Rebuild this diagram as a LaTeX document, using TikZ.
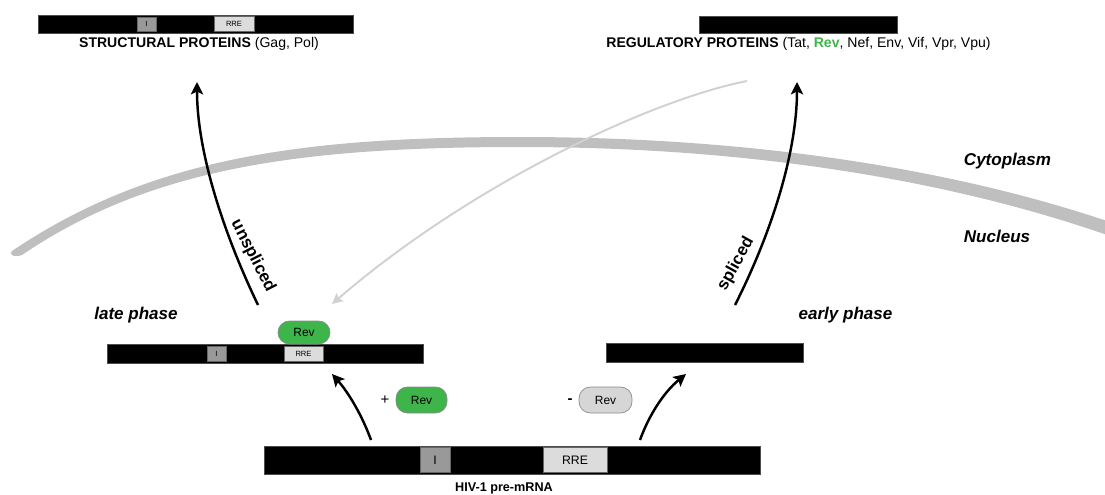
\documentclass[tikz,border=0pt]{standalone}
\usepackage{fontspec}
\setmainfont{Liberation Sans}
\usetikzlibrary{arrows.meta}
\definecolor{revgreen}{HTML}{3DB54A}
\definecolor{revgray}{HTML}{D6D6D6}
\definecolor{memgray}{HTML}{BFBFBF}
\definecolor{ibox}{HTML}{999999}
\definecolor{rrebox}{HTML}{DCDCDC}
\tikzset{
  rna/.style={fill=black, draw=black!70, line width=0.4pt, inner sep=0pt},
  ibx/.style={fill=ibox, draw=black!60, line width=0.4pt, inner sep=0pt},
  rrebx/.style={fill=rrebox, draw=black!60, line width=0.4pt, inner sep=0pt},
  revpill/.style={draw=black!45, line width=0.4pt, rounded corners=6.5pt, inner sep=0pt,
    font=\fontsize{6.8}{8}\selectfont},
  flow/.style={line width=1.4pt, -{Stealth[length=7pt, width=7pt, inset=1.5pt]}},
  phase/.style={font=\fontsize{9.7}{11}\selectfont\bfseries\itshape},
  proteins/.style={font=\fontsize{8}{9}\selectfont},
  along/.style={font=\fontsize{9.6}{11}\selectfont\bfseries},
}
\begin{document}
\begin{tikzpicture}[x=0.02cm, y=-0.02cm]
\useasboundingbox (0,0) rectangle (1105,494);
% membrane
\fill[memgray] (12,251) .. controls (150,158) and (300,137) .. (520,137)
  .. controls (750,137) and (950,168) .. (1110,222) -- (1110,236)
  .. controls (950,180) and (750,147) .. (520,147)
  .. controls (300,147) and (150,168) .. (22,255)
  .. controls (14,258) and (8,254) .. (12,251) -- cycle;
\node[phase] (cyto) at (1007.5,161) {Cytoplasm};
\node[phase] (nucl) at (997,236) {Nucleus};
% structural proteins
\node[rna, minimum width=6.3cm, minimum height=0.36cm] (sbar) at (195.5,24) {};
\node[ibx, minimum width=0.38cm, minimum height=0.28cm, font=\fontsize{4.3}{5}\selectfont] (sI) at (146.5,24) {I};
\node[rrebx, minimum width=0.8cm, minimum height=0.3cm, font=\fontsize{4.3}{5}\selectfont] (sRRE) at (234,24) {RRE};
\node[proteins] (stext) at (199,44) {\textbf{STRUCTURAL PROTEINS} (Gag, Pol)};
% regulatory proteins
\node[rna, minimum width=3.96cm, minimum height=0.34cm] (rbar) at (798,24.5) {};
\node[proteins] (rtext) at (798.5,44) {\textbf{REGULATORY PROTEINS} (Tat, \textcolor{revgreen}{\textbf{Rev}}, Nef, Env, Vif, Vpr, Vpu)};
% late phase
\node[phase] (late) at (136,315) {late phase};
\node[rna, minimum width=6.32cm, minimum height=0.38cm] (lbar) at (265,353.5) {};
\node[ibx, minimum width=0.38cm, minimum height=0.3cm, font=\fontsize{4.3}{5}\selectfont] (lI) at (216.5,353.5) {I};
\node[rrebx, minimum width=0.78cm, minimum height=0.3cm, font=\fontsize{4.3}{5}\selectfont] (lRRE) at (303.5,353.5) {RRE};
\node[revpill, fill=revgreen, minimum width=1.04cm, minimum height=0.46cm] (lrev) at (304,332.5) {Rev};
% early phase
\node[phase] (early) at (845.5,315) {early phase};
\node[rna, minimum width=3.94cm, minimum height=0.38cm] (ebar) at (704.5,352.5) {};
% HIV-1 pre-mRNA
\node[rna, minimum width=9.92cm, minimum height=0.56cm] (pbar) at (512,460) {};
\node[ibx, minimum width=0.6cm, minimum height=0.5cm, font=\fontsize{7}{8}\selectfont] (pI) at (435,460) {I};
\node[rrebx, minimum width=1.28cm, minimum height=0.5cm, font=\fontsize{7}{8}\selectfont] (pRRE) at (575,460) {RRE};
\node[font=\fontsize{7.2}{8}\selectfont\bfseries] (ptext) at (504,488) {HIV-1 pre-mRNA};
% plus / minus Rev
\node[font=\fontsize{8.5}{9}\selectfont] (plus) at (385,400) {+};
\node[revpill, fill=revgreen, minimum width=1.02cm, minimum height=0.52cm] (prev) at (421.5,400) {Rev};
\node[font=\fontsize{8.5}{9}\selectfont\bfseries] (minus) at (570,401) {-};
\node[revpill, fill=revgray, minimum width=1.06cm, minimum height=0.52cm] (mrev) at (605.5,400) {Rev};
% arrow ends
\coordinate (pL) at (371,440);
\coordinate (pR) at (640,440);
\coordinate (lTip) at (332,374);
\coordinate (eTip) at (686,374);
\coordinate (uFrom) at (258,305);
\coordinate (uTip) at (197,82);
\coordinate (sFrom) at (735,305);
\coordinate (sTip) at (797,82);
\coordinate (gFrom) at (747,81);
\coordinate (gTip) at (332,304);
% arrows
\draw[flow] (pL) .. controls (362,415) and (348,392) .. (lTip);
\draw[flow] (pR) .. controls (649,415) and (664,392) .. (eTip);
\draw[flow] (uFrom) .. controls (222,230) and (197,150) .. (uTip);
\draw[flow] (sFrom) .. controls (773,230) and (797,150) .. (sTip);
\draw[line width=1.1pt, black!18, -{Stealth[length=6pt, width=6pt, inset=1pt]}] (gFrom) .. controls (650,100) and (470,185) .. (gTip);
% arrow labels
\node[along, rotate=-63] (unsp) at (253,256) {unspliced};
\node[along, rotate=61] (spl) at (736,264) {spliced};
\end{tikzpicture}
\end{document}
